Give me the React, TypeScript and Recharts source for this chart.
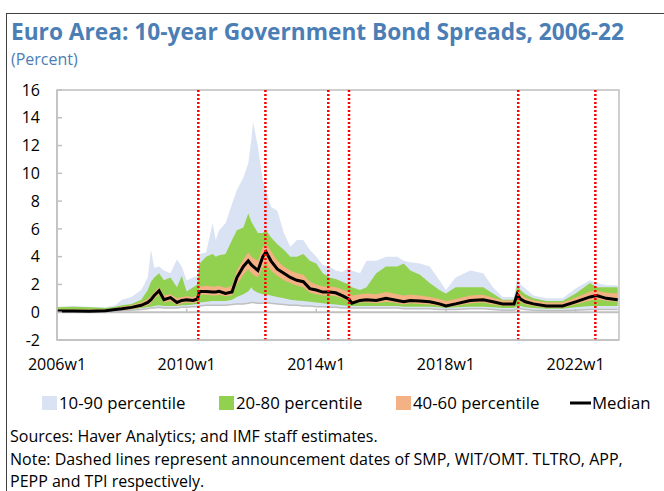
import React from 'react';
import { ComposedChart, Area, Line, XAxis, YAxis, ReferenceLine, ReferenceArea } from 'recharts';

// Time in decimal years (weekly series sampled)
const weeks = [2006.0, 2006.5, 2007.0, 2007.5, 2007.8, 2008.0, 2008.3, 2008.6, 2008.8, 2008.9, 2009.0, 2009.15, 2009.3, 2009.5, 2009.7, 2009.85, 2010.0, 2010.2, 2010.33, 2010.4, 2010.6, 2010.8, 2010.9, 2011.0, 2011.2, 2011.4, 2011.55, 2011.75, 2011.9, 2012.0, 2012.05, 2012.2, 2012.35, 2012.45, 2012.6, 2012.8, 2013.0, 2013.2, 2013.4, 2013.6, 2013.8, 2014.0, 2014.2, 2014.4, 2014.6, 2014.8, 2015.0, 2015.1, 2015.35, 2015.55, 2015.85, 2016.15, 2016.5, 2016.7, 2016.9, 2017.2, 2017.5, 2017.8, 2018.0, 2018.3, 2018.75, 2019.15, 2019.45, 2019.75, 2020.1, 2020.2, 2020.3, 2020.45, 2020.7, 2021.1, 2021.6, 2022.0, 2022.45, 2022.65, 2022.95, 2023.3];

const p10 = [0.0, 0.0, 0.0, 0.0, 0.05, 0.1, 0.15, 0.2, 0.25, 0.3, 0.3, 0.35, 0.3, 0.3, 0.3, 0.35, 0.35, 0.4, 0.4, 0.45, 0.5, 0.5, 0.5, 0.5, 0.5, 0.55, 0.6, 0.6, 0.65, 0.7, 0.7, 0.65, 0.65, 0.7, 0.65, 0.6, 0.55, 0.5, 0.5, 0.45, 0.45, 0.4, 0.4, 0.35, 0.35, 0.3, 0.3, 0.3, 0.3, 0.3, 0.3, 0.3, 0.3, 0.25, 0.25, 0.25, 0.25, 0.2, 0.2, 0.2, 0.25, 0.25, 0.2, 0.15, 0.15, 0.25, 0.25, 0.2, 0.15, 0.1, 0.1, 0.15, 0.2, 0.2, 0.2, 0.2];
const p20 = [0.05, 0.05, 0.05, 0.05, 0.1, 0.15, 0.2, 0.3, 0.35, 0.4, 0.45, 0.5, 0.45, 0.45, 0.45, 0.5, 0.5, 0.55, 0.6, 0.7, 0.75, 0.8, 0.8, 0.8, 0.8, 0.9, 1.1, 1.3, 1.5, 1.8, 1.6, 1.4, 1.3, 1.3, 1.2, 1.1, 1.0, 0.9, 0.85, 0.8, 0.75, 0.7, 0.65, 0.6, 0.55, 0.5, 0.45, 0.45, 0.45, 0.45, 0.45, 0.45, 0.45, 0.4, 0.4, 0.4, 0.4, 0.35, 0.3, 0.35, 0.4, 0.4, 0.35, 0.3, 0.3, 0.45, 0.45, 0.35, 0.3, 0.25, 0.25, 0.35, 0.45, 0.45, 0.45, 0.45];
const p40 = [0.03, 0.03, 0.03, 0.05, 0.1, 0.15, 0.22, 0.35, 0.5, 0.65, 0.95, 1.3, 0.7, 0.8, 0.5, 0.65, 0.7, 0.65, 0.75, 1.25, 1.25, 1.2, 1.2, 1.25, 1.15, 1.2, 2.0, 2.7, 3.1, 2.8, 2.7, 2.5, 3.3, 3.5, 3.0, 2.6, 2.3, 2.1, 1.9, 1.8, 1.4, 1.3, 1.2, 1.2, 1.15, 1.0, 0.8, 0.55, 0.7, 0.7, 0.65, 0.75, 0.65, 0.55, 0.65, 0.6, 0.55, 0.45, 0.35, 0.45, 0.65, 0.7, 0.55, 0.45, 0.45, 1.0, 0.75, 0.55, 0.45, 0.32, 0.32, 0.55, 0.85, 0.95, 0.8, 0.75];
const p60 = [0.2, 0.2, 0.2, 0.22, 0.3, 0.4, 0.5, 0.7, 0.95, 1.15, 1.45, 1.8, 1.2, 1.3, 1.0, 1.1, 1.15, 1.1, 1.2, 1.85, 1.9, 1.85, 1.85, 1.9, 1.75, 1.9, 3.0, 3.8, 4.3, 4.0, 3.9, 3.7, 4.7, 4.9, 4.4, 3.7, 3.3, 3.0, 2.8, 2.7, 2.2, 2.0, 1.85, 1.85, 1.8, 1.65, 1.45, 1.2, 1.3, 1.35, 1.3, 1.45, 1.3, 1.2, 1.25, 1.2, 1.1, 0.95, 0.8, 0.95, 1.2, 1.25, 1.05, 0.85, 0.85, 1.6, 1.3, 1.05, 0.85, 0.7, 0.7, 1.05, 1.5, 1.55, 1.4, 1.35];
const p80 = [0.35, 0.4, 0.35, 0.3, 0.4, 0.5, 0.6, 0.9, 1.6, 2.2, 2.5, 2.8, 2.3, 2.5, 1.8, 2.6, 1.5, 1.8, 2.0, 3.5, 4.0, 4.2, 4.0, 4.1, 4.2, 5.2, 5.9, 6.1, 7.1, 6.5, 6.3, 5.7, 5.7, 5.9, 5.4, 4.9, 4.5, 4.0, 4.0, 4.2, 3.7, 3.5, 2.8, 2.5, 2.4, 2.2, 2.0, 1.8, 1.6, 1.8, 2.8, 3.3, 3.3, 3.5, 3.0, 2.7, 2.1, 1.6, 1.35, 1.8, 1.8, 1.8, 1.35, 0.9, 0.9, 1.95, 1.6, 1.3, 1.0, 0.8, 0.8, 1.35, 2.1, 1.8, 1.8, 1.8];
const p90 = [0.4, 0.45, 0.4, 0.35, 0.5, 0.9, 1.1, 1.6, 2.5, 4.5, 3.2, 3.3, 3.0, 2.8, 3.8, 3.3, 2.3, 2.5, 2.6, 4.2, 4.3, 6.4, 5.2, 5.9, 6.4, 7.8, 8.8, 9.7, 10.7, 12.5, 13.7, 11.9, 9.5, 8.8, 7.6, 7.3, 5.7, 4.7, 5.2, 5.2, 4.5, 4.0, 3.4, 3.3, 3.0, 2.9, 3.2, 3.0, 2.8, 3.7, 3.7, 4.0, 4.0, 3.7, 3.6, 3.5, 3.3, 2.3, 1.6, 2.5, 3.0, 2.8, 1.8, 1.1, 1.1, 2.5, 2.0, 1.7, 1.2, 1.0, 1.0, 1.7, 2.3, 2.1, 1.95, 1.95];
const median = [0.08, 0.08, 0.07, 0.1, 0.2, 0.25, 0.35, 0.5, 0.7, 0.9, 1.2, 1.55, 0.9, 1.05, 0.7, 0.85, 0.9, 0.85, 0.95, 1.5, 1.5, 1.45, 1.45, 1.5, 1.35, 1.45, 2.5, 3.3, 3.7, 3.4, 3.3, 3.0, 4.0, 4.35, 3.7, 3.1, 2.8, 2.5, 2.3, 2.2, 1.7, 1.6, 1.45, 1.45, 1.4, 1.2, 0.95, 0.65, 0.85, 0.9, 0.85, 1.0, 0.85, 0.75, 0.85, 0.8, 0.75, 0.6, 0.45, 0.6, 0.85, 0.9, 0.75, 0.6, 0.6, 1.3, 0.95, 0.75, 0.6, 0.45, 0.45, 0.75, 1.1, 1.2, 1.0, 0.9];

// Announcement dates: SMP, WIT/OMT, TLTRO, APP, PEPP, TPI
const eventDates = [2010.36, 2012.43, 2014.37, 2015.01, 2020.23, 2022.61];
const xTickYears = [2006, 2010, 2014, 2018, 2022];
const yTicks = [-2, 0, 2, 4, 6, 8, 10, 12, 14, 16];

const legendItems = [
  { label: '10-90 percentile', color: '#dae3f3', kind: 'box' },
  { label: '20-80 percentile', color: '#92d050', kind: 'box' },
  { label: '40-60 percentile', color: '#f4b183', kind: 'box' },
  { label: 'Median', color: '#000000', kind: 'line' },
];

const data = weeks.map((t, i) => ({
  t,
  b1090: [p10[i], p90[i]],
  b2080: [p20[i], p80[i]],
  b4060: [p40[i], p60[i]],
  p10: p10[i],
  median: median[i],
}));

const FONT = '"Open Sans", sans-serif';
const AXIS_GREY = '#c0c0c0';

export default function App() {
  const legendX = [42, 219, 396, 570];
  return (
    <div style={{ position: 'absolute', left: 0, top: 0, width: 664, height: 491, background: '#fff', fontFamily: FONT, overflow: 'hidden' }}>
      <div style={{ position: 'absolute', left: 6, top: 13, width: 670, height: 500, borderLeft: '1px solid #404040', borderTop: '1px solid #404040' }} />
      <div style={{ position: 'absolute', left: 0, top: 0 }}>
        <ComposedChart width={664} height={491} data={data} margin={{ top: 90, right: 45, bottom: 121, left: 0 }}>
          <ReferenceArea x1={2006} x2={2023.34} y1={-2} y2={16} fill="none" stroke={AXIS_GREY} strokeWidth={1.5} ifOverflow="visible" />
          <XAxis
            dataKey="t"
            type="number"
            domain={[2006, 2023.34]}
            ticks={xTickYears}
            tickFormatter={(v: number) => `${v}w1`}
            allowDataOverflow
            height={30}
            tickLine={false}
            tickSize={6}
            tickMargin={13}
            axisLine={{ stroke: AXIS_GREY, strokeWidth: 1.5 }}
            tick={{ fill: '#000', fontSize: 16, fontFamily: FONT }}
          />
          <YAxis
            type="number"
            domain={[-2, 16]}
            ticks={yTicks}
            width={57}
            tickSize={-5}
            tickMargin={22}
            axisLine={{ stroke: AXIS_GREY, strokeWidth: 1.5 }}
            tickLine={{ stroke: AXIS_GREY, strokeWidth: 1.5 }}
            tick={{ fill: '#000', fontSize: 16, fontFamily: FONT }}
            interval={0}
          />
          <Area dataKey="b1090" type="linear" stroke="none" fill="#dae3f3" fillOpacity={1} isAnimationActive={false} />
          <Area dataKey="b2080" type="linear" stroke="none" fill="#92d050" fillOpacity={1} isAnimationActive={false} />
          <Area dataKey="b4060" type="linear" stroke="none" fill="#f4b183" fillOpacity={1} isAnimationActive={false} />
          <ReferenceLine y={0} stroke={AXIS_GREY} strokeWidth={2} />
          {xTickYears.slice(1).map((yr) => (
            <ReferenceLine key={'tk' + yr} segment={[{ x: yr, y: 0 }, { x: yr, y: 0.25 }]} stroke={AXIS_GREY} strokeWidth={1.5} />
          ))}
          <Line dataKey="p10" type="linear" stroke="#bfbfbf" strokeWidth={1.5} dot={false} isAnimationActive={false} />
          <Line dataKey="median" type="linear" stroke="#000" strokeWidth={3} dot={false} isAnimationActive={false} />
          {eventDates.map((d) => (
            <ReferenceLine key={'ev' + d} x={d} stroke="#ff0000" strokeWidth={2.5} strokeDasharray="2 2" />
          ))}
        </ComposedChart>
      </div>
      <svg width={664} height={491} style={{ position: 'absolute', left: 0, top: 0, pointerEvents: 'none' }}>
        <text x={11} y={40} fontFamily={FONT} fontWeight={700} fontSize={22.7} fill="#4a7eb5">
          Euro Area: 10-year Government Bond Spreads, 2006-22
        </text>
        <text x={11} y={65} fontFamily={FONT} fontSize={16} fill="#4a7eb5">(Percent)</text>
        {legendItems.map((it, i) => (
          <g key={it.label}>
            {it.kind === 'box' ? (
              <rect x={legendX[i]} y={396} width={15} height={14} fill={it.color} />
            ) : (
              <line x1={legendX[i]} x2={legendX[i] + 21} y1={403} y2={403} stroke={it.color} strokeWidth={3} />
            )}
            <text x={legendX[i] + (it.kind === 'box' ? 17 : 22)} y={409} fontFamily={FONT} fontSize={16.8} fill="#000">{it.label}</text>
          </g>
        ))}
        <text x={10} y={442} fontFamily={FONT} fontSize={16} fill="#000">Sources: Haver Analytics; and IMF staff estimates.</text>
        <text x={10} y={464.5} fontFamily={FONT} fontSize={16} fill="#000">Note: Dashed lines represent announcement dates of SMP, WIT/OMT. TLTRO, APP,</text>
        <text x={10} y={486.5} fontFamily={FONT} fontSize={16} fill="#000">PEPP and TPI respectively.</text>
      </svg>
    </div>
  );
}
